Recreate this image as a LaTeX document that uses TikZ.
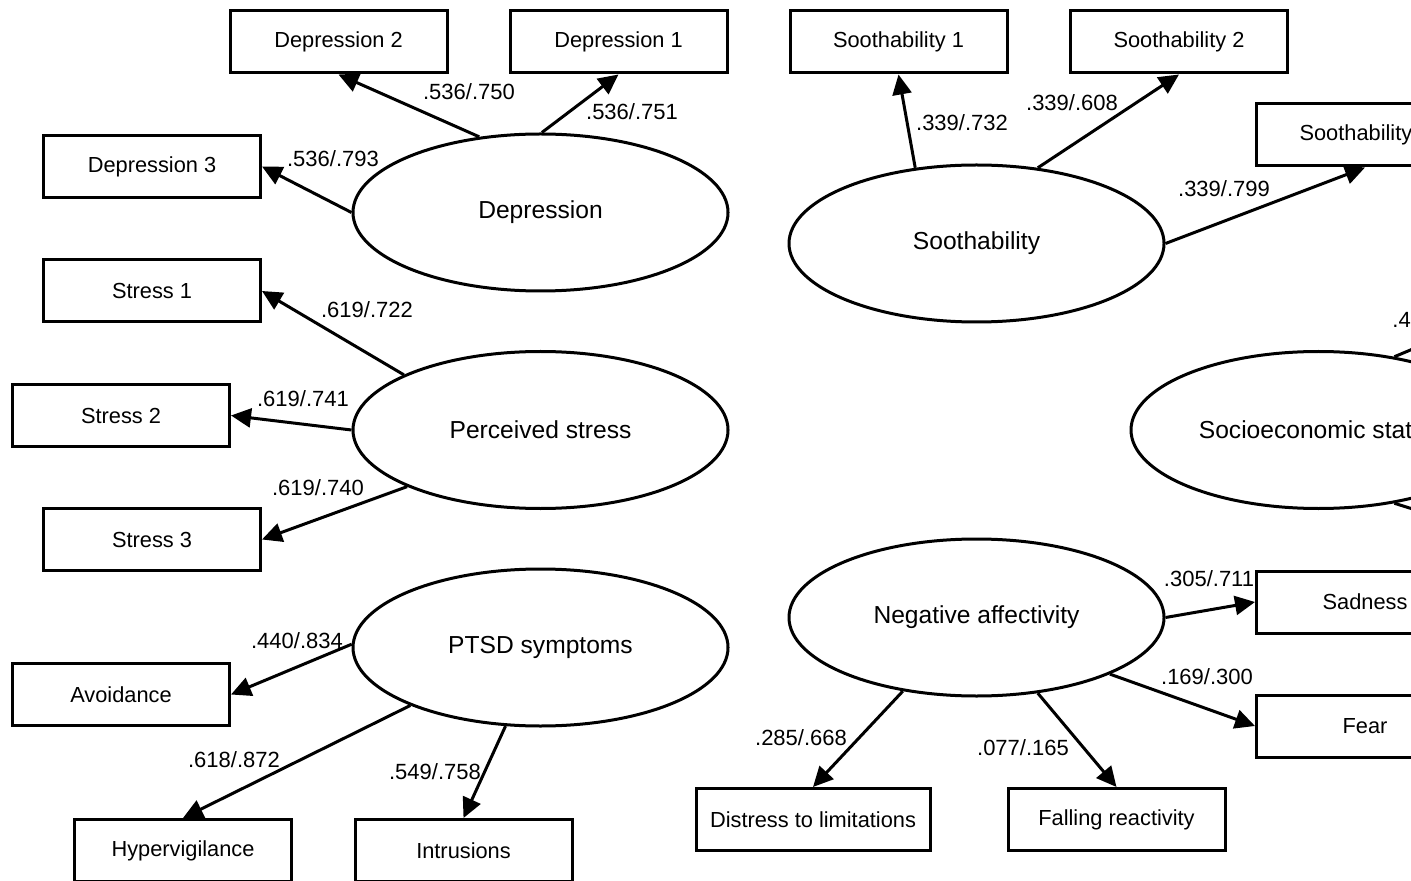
\documentclass[tikz,border=0pt]{standalone}
\usepackage{fontspec}
\setmainfont{Liberation Sans}
\usetikzlibrary{arrows.meta,shapes.geometric}
\tikzset{
         lat/.style={draw,ellipse,line width=1.5pt,minimum width=187.5pt,minimum height=78.5pt,inner sep=0pt,font=\fontsize{12.3}{14}\selectfont},
         obs/.style={draw,rectangle,line width=1.5pt,minimum width=108.5pt,minimum height=31pt,inner sep=0pt,font=\fontsize{10.9}{13}\selectfont},
         load/.style={line width=1.5pt,->},
         est/.style={inner sep=0pt,font=\fontsize{11}{13}\selectfont}
        }

\begin{document}
\begin{tikzpicture}[x=0.5pt,y=-0.5pt,>={Triangle[length=10pt,width=9.5pt]}]
      \useasboundingbox (0,0) rectangle (1411,881);
      \clip (0,0) rectangle (1411,881);
      % latent variables
      \node[lat] (depr) at (540.5,212.5) {Depression}; % depression
      \node[lat] (pstr) at (540.5,430) {Perceived stress}; % stress
      \node[lat] (ptsd) at (540.5,647.5) {PTSD symptoms}; % ptsd
      \node[lat] (sooth) at (976.5,243.5) {Soothability}; % soothability
      \node[lat] (ses) at (1318.5,430) {Socioeconomic status}; % ses
      \node[lat] (negaff) at (976.5,617.5) {Negative affectivity}; % negative affectivity
      % indicators
      \node[obs] (dep2) at (338.5,42) {Depression 2};
      \node[obs] (dep1) at (618.5,42) {Depression 1};
      \node[obs] (dep3) at (152,166.5) {Depression 3};
      \node[obs] (str1) at (152,291) {Stress 1};
      \node[obs] (str2) at (121,415.5) {Stress 2};
      \node[obs] (str3) at (152,539.5) {Stress 3};
      \node[obs] (avoid) at (121,694.5) {Avoidance};
      \node[obs] (hyper) at (183,850.5) {Hypervigilance};
      \node[obs] (intr) at (463.5,850.5) {Intrusions};
      \node[obs] (sth1) at (898.5,42) {Soothability 1};
      \node[obs] (sth2) at (1179,42) {Soothability 2};
      \node[obs] (sth3) at (1365,135) {Soothability 3};
      \node[obs] (sad) at (1365,602) {Sadness};
      \node[obs] (fear) at (1365,726) {Fear};
      \node[obs,minimum width=117pt] (distr) at (813,819.5) {Distress to limitations};
      \node[obs] (fall) at (1116.5,819.5) {Falling reactivity};
      \coordinate (sesa) at (1582,278); % off the edge
      \coordinate (sesb) at (1582,562); % off the edge
      % loadings
      \draw[load] (depr.129) -- (dep2.south);
      \draw[load] (depr.89) -- (dep1.south);
      \draw[load] (depr.west) -- (dep3.east);
      \draw[load] (pstr.158) -- (str1.east);
      \draw[load] (pstr.west) -- (str2.east);
      \draw[load] (pstr.203) -- (str3.east);
      \draw[load] (ptsd.179) -- (avoid.east);
      \draw[load] (ptsd.204) -- (hyper.north);
      \draw[load] (ptsd.246) -- (intr.north);
      \draw[load] (sooth.129) -- (sth1.south);
      \draw[load] (sooth.51) -- (sth2.south);
      \draw[load] (sooth.east) -- (sth3.south);
      \draw[load] (ses.44) -- (sesa);
      \draw[load] (ses.316) -- (sesb);
      \draw[load] (negaff.east) -- (sad.west);
      \draw[load] (negaff.337) -- (fear.west);
      \draw[load] (negaff.225) -- (distr.north);
      \draw[load] (negaff.309) -- (fall.north);
      % loading labels
      \node[est] (ldep2) at (469,92) {.536/.750};
      \node[est] (ldep1) at (632,112) {.536/.751};
      \node[est] (ldep3) at (333,159) {.536/.793};
      \node[est] (lstr1) at (367,310) {.619/.722};
      \node[est] (lstr2) at (303,399) {.619/.741};
      \node[est] (lstr3) at (318,488) {.619/.740};
      \node[est] (lavoid) at (297,641) {.440/.834};
      \node[est] (lhyper) at (234,760) {.618/.872};
      \node[est] (lintr) at (435,772) {.549/.758};
      \node[est] (lsth1) at (962,123) {.339/.732};
      \node[est] (lsth2) at (1072,103) {.339/.608};
      \node[est] (lsth3) at (1224,189) {.339/.799};
      \node[est,anchor=west] (lsesa) at (1392,320) {.4};
      \node[est] (lsad) at (1209,579) {.305/.711};
      \node[est] (lfear) at (1207,677) {.169/.300};
      \node[est] (ldistr) at (801,738) {.285/.668};
      \node[est] (lfall) at (1023,748) {.077/.165};
    \end{tikzpicture}
\end{document}
